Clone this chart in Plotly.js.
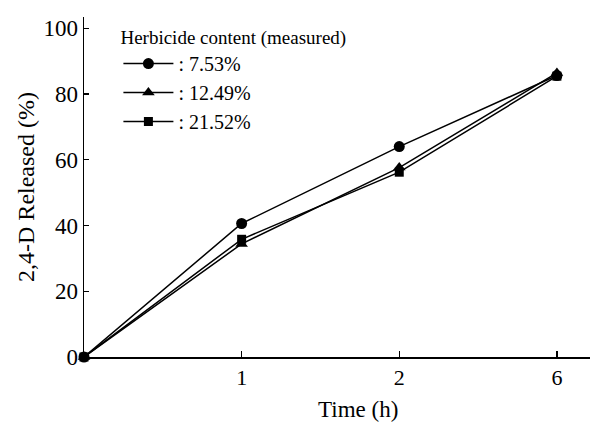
<!DOCTYPE html>
<html>
<head>
<meta charset="utf-8">
<script src="https://cdn.plot.ly/plotly-3.0.1.min.js"></script>
<style>html,body{margin:0;padding:0;background:#fff;}#chart{width:594px;height:425px;}</style>
</head>
<body>
<div id="chart"></div>
<script>
// Time points (h) and their evenly spaced plotting positions
const timeLabels = ["0", "1", "2", "6"];
const timePos = [0, 1, 2, 3];

// 2,4-D released (%) for each measured herbicide content
const series753 = [0, 40.6, 64.0, 85.6];
const series1249 = [0, 34.4, 57.6, 86.4];
const series2152 = [0, 35.8, 56.2, 85.4];

const seriesNames = [": 7.53%", ": 12.49%", ": 21.52%"];
const legendTitle = "Herbicide content (measured)";
const xTitle = "Time (h)";
const yTitle = "2,4-D Released (%)";
const yTicks = [0, 20, 40, 60, 80, 100];

const font = "Liberation Serif, Times New Roman, serif";
const lineStyle = {color: "#000", width: 1.5};

const traces = [
  {x: timePos, y: series2152, name: seriesNames[2], legendrank: 3, mode: "lines+markers",
   line: lineStyle, marker: {symbol: "square", size: 9, color: "#000"}, cliponaxis: false},
  {x: timePos, y: series1249, name: seriesNames[1], legendrank: 2, mode: "lines+markers",
   line: lineStyle, marker: {symbol: "triangle-up", size: 11, color: "#000"}, cliponaxis: false},
  {x: timePos, y: series753, name: seriesNames[0], legendrank: 1, mode: "lines+markers",
   line: lineStyle, marker: {symbol: "circle", size: 11, color: "#000"}, cliponaxis: false}
];

const layout = {
  width: 594, height: 425,
  margin: {l: 84, r: 4, t: 17, b: 68},
  paper_bgcolor: "#fff", plot_bgcolor: "#fff",
  font: {family: font, color: "#000", size: 22},
  showlegend: true,
  legend: {
    x: 0.068, y: 0.993, xanchor: "left", yanchor: "top",
    bgcolor: "rgba(0,0,0,0)",
    font: {family: font, size: 20, color: "#000"},
    title: {text: legendTitle, font: {family: font, size: 19, color: "#000"}},
    tracegroupgap: 0, itemwidth: 50
  },
  xaxis: {
    range: [0, 3.21],
    tickvals: timePos.slice(1), ticktext: timeLabels.slice(1),
    ticks: "inside", ticklen: 6, tickwidth: 1.2, tickcolor: "#000",
    showline: true, linecolor: "#000", linewidth: 1.5,
    showgrid: false, zeroline: false,
    tickfont: {family: font, size: 22}
  },
  yaxis: {
    range: [0, 103.4],
    tickvals: yTicks,
    ticks: "inside", ticklen: 5, tickwidth: 1.2, tickcolor: "#000",
    showline: true, linecolor: "#000", linewidth: 1.5,
    showgrid: false, zeroline: false,
    tickfont: {family: font, size: 23},
    title: {text: yTitle, font: {family: font, size: 24}, standoff: 2}
  },
  annotations: [{
    text: xTitle, xref: "paper", yref: "paper",
    x: 0.5415, y: -0.155, xanchor: "center", yanchor: "middle",
    showarrow: false, font: {family: font, size: 23, color: "#000"}
  }]
};

Plotly.newPlot("chart", traces, layout, {displayModeBar: false, staticPlot: true});
</script>
</body>
</html>
